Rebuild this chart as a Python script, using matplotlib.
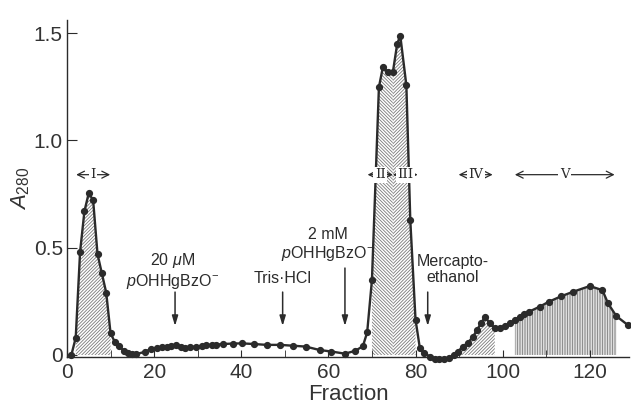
import numpy as np
import matplotlib
matplotlib.use("Agg")
import matplotlib.pyplot as plt
from matplotlib.ticker import MultipleLocator, FixedLocator

plt.rcParams['font.family'] = ['Liberation Sans', 'DejaVu Sans']
plt.rcParams['mathtext.fontset'] = 'custom'
plt.rcParams['mathtext.rm'] = 'Liberation Sans'
plt.rcParams['mathtext.it'] = 'Liberation Sans:italic'
plt.rcParams['hatch.linewidth'] = 0.6

# elution profile
fraction = [1, 2, 3, 4, 5, 6, 7, 8, 9, 10, 11, 12, 13, 14, 15, 15.8,
            17.9, 19.3, 20.6, 21.7, 22.9, 23.9, 25.0, 26.1, 27.1, 28.2, 29.5,
            30.9, 32.0, 33.2, 34.3, 35.8, 38.0, 40.1, 42.9, 45.8, 48.9, 51.9,
            54.8, 58.0, 60.7, 63.8, 66.1, 67.9, 68.9, 70.0, 71.6, 72.5, 73.7,
            74.8, 75.8, 76.5, 77.9, 78.8, 80.0, 81.0, 81.9, 83.3, 84.4, 85.4,
            86.5, 87.7, 88.8, 89.7, 90.9, 92.0, 93.1, 94.1, 95.1, 96.0, 97.0,
            98.2, 99.3, 100.5, 101.6, 102.8, 103.9, 105.0, 106.0, 108.5, 110.6,
            113.5, 116.1, 120.0, 122.9, 124.2, 126.1, 128.7]
a280 = [0.0, 0.08, 0.48, 0.67, 0.755, 0.72, 0.47, 0.38, 0.29, 0.10, 0.06,
        0.04, 0.02, 0.008, 0.005, 0.003,
        0.015, 0.028, 0.031, 0.036, 0.039, 0.042, 0.048, 0.036, 0.031, 0.036,
        0.039, 0.042, 0.045, 0.048, 0.048, 0.051, 0.053, 0.054, 0.051, 0.047,
        0.047, 0.043, 0.039, 0.023, 0.016, 0.006, 0.019, 0.04, 0.105, 0.35,
        1.248, 1.34, 1.318, 1.318, 1.45, 1.488, 1.256, 0.628, 0.165, 0.031,
        0.011, -0.008, -0.02, -0.02, -0.02, -0.015, 0.0, 0.016, 0.039, 0.057,
        0.082, 0.116, 0.15, 0.178, 0.147, 0.127, 0.127, 0.135, 0.147, 0.163,
        0.178, 0.191, 0.201, 0.225, 0.248, 0.274, 0.294, 0.321, 0.302, 0.24,
        0.181, 0.14]

# pooled regions: (start, end, hatch)
pools = [(2, 10, '/' * 10), (70, 74.8, '\\' * 10), (74.8, 80, '/' * 10),
         (89.7, 98.2, '/' * 10), (102.8, 126.1, '|' * 10)]

# range labels: (name, left, right)
ranges = [('I', 2.1, 9.9), ('II', 69.0, 74.8), ('III', 74.8, 80.5),
          ('IV', 89.9, 97.7), ('V', 102.8, 125.7)]

# additions: (text, text x, text y, arrow x, arrow top)
additions = [(r'20 $\mu$M' + '\n' + r'$p$OHHgBzO$^{-}$', 24.3, 0.392, 24.8, 0.293),
             ('Tris·HCl', 49.5, 0.354, 49.5, 0.293),
             ('2 mM\n' + r'$p$OHHgBzO$^{-}$', 59.9, 0.513, 63.8, 0.405),
             ('Mercapto-\nethanol', 88.5, 0.40, 82.8, 0.293)]

x = np.array(fraction)
y = np.array(a280)
ink = '#2b2b2b'

fig = plt.figure(figsize=(6.31, 4.15), dpi=100)
ax = fig.add_axes([0.1062, 0.1395, 0.8906, 0.812])

for lo, hi, h in pools:
    m = (x >= lo) & (x <= hi)
    ax.fill_between(x[m], 0, y[m], facecolor='white', edgecolor='#7a7a7a',
                    hatch=h, linewidth=0, zorder=1)

ax.plot(x, y, color=ink, lw=1.7, marker='o', ms=4.2, mfc=ink, mec=ink,
        zorder=3, clip_on=False)

for name, lo, hi in ranges:
    ax.annotate('', xy=(lo, 0.84), xytext=(hi, 0.84),
                arrowprops=dict(arrowstyle='<->,head_length=0.5,head_width=0.25',
                                color=ink, lw=0.9, shrinkA=0, shrinkB=0), zorder=4)
    ax.text((lo + hi) / 2, 0.84, name, ha='center', va='center', fontsize=9.5,
            family='DejaVu Serif', color=ink, zorder=5,
            bbox=dict(boxstyle='square,pad=0.12', fc='white', ec='none'))

for txt, tx, ty, axx, top in additions:
    ax.text(tx, ty, txt, ha='center', va='center', fontsize=11.5, color=ink,
            linespacing=1.1)
    ax.annotate('', xy=(axx, 0.135), xytext=(axx, top),
                arrowprops=dict(arrowstyle='-|>,head_length=0.6,head_width=0.18',
                                color=ink, lw=1.1, shrinkA=0, shrinkB=0))

ax.set_xlim(0, 129)
ax.set_ylim(-0.01, 1.56)
ax.spines['top'].set_visible(False)
ax.spines['right'].set_visible(False)
for s in ('left', 'bottom'):
    ax.spines[s].set_color(ink)
    ax.spines[s].set_linewidth(1.0)

ax.xaxis.set_major_locator(MultipleLocator(20))
ax.xaxis.set_minor_locator(MultipleLocator(10))
ax.yaxis.set_major_locator(FixedLocator([0, 0.5, 1.0, 1.5]))
ax.set_yticklabels(['0', '0.5', '1.0', '1.5'])
ax.tick_params(axis='both', which='both', direction='in', color=ink,
               labelsize=15, labelcolor='#333333')
ax.tick_params(axis='x', which='both', length=5, pad=4)
ax.tick_params(axis='y', length=7, pad=3)

ax.set_xlabel('Fraction', fontsize=16, color='#333333', labelpad=2)
ax.set_ylabel(r'$A_{280}$', fontsize=16, color='#333333', labelpad=1)

fig.savefig('out.png', dpi=100)
